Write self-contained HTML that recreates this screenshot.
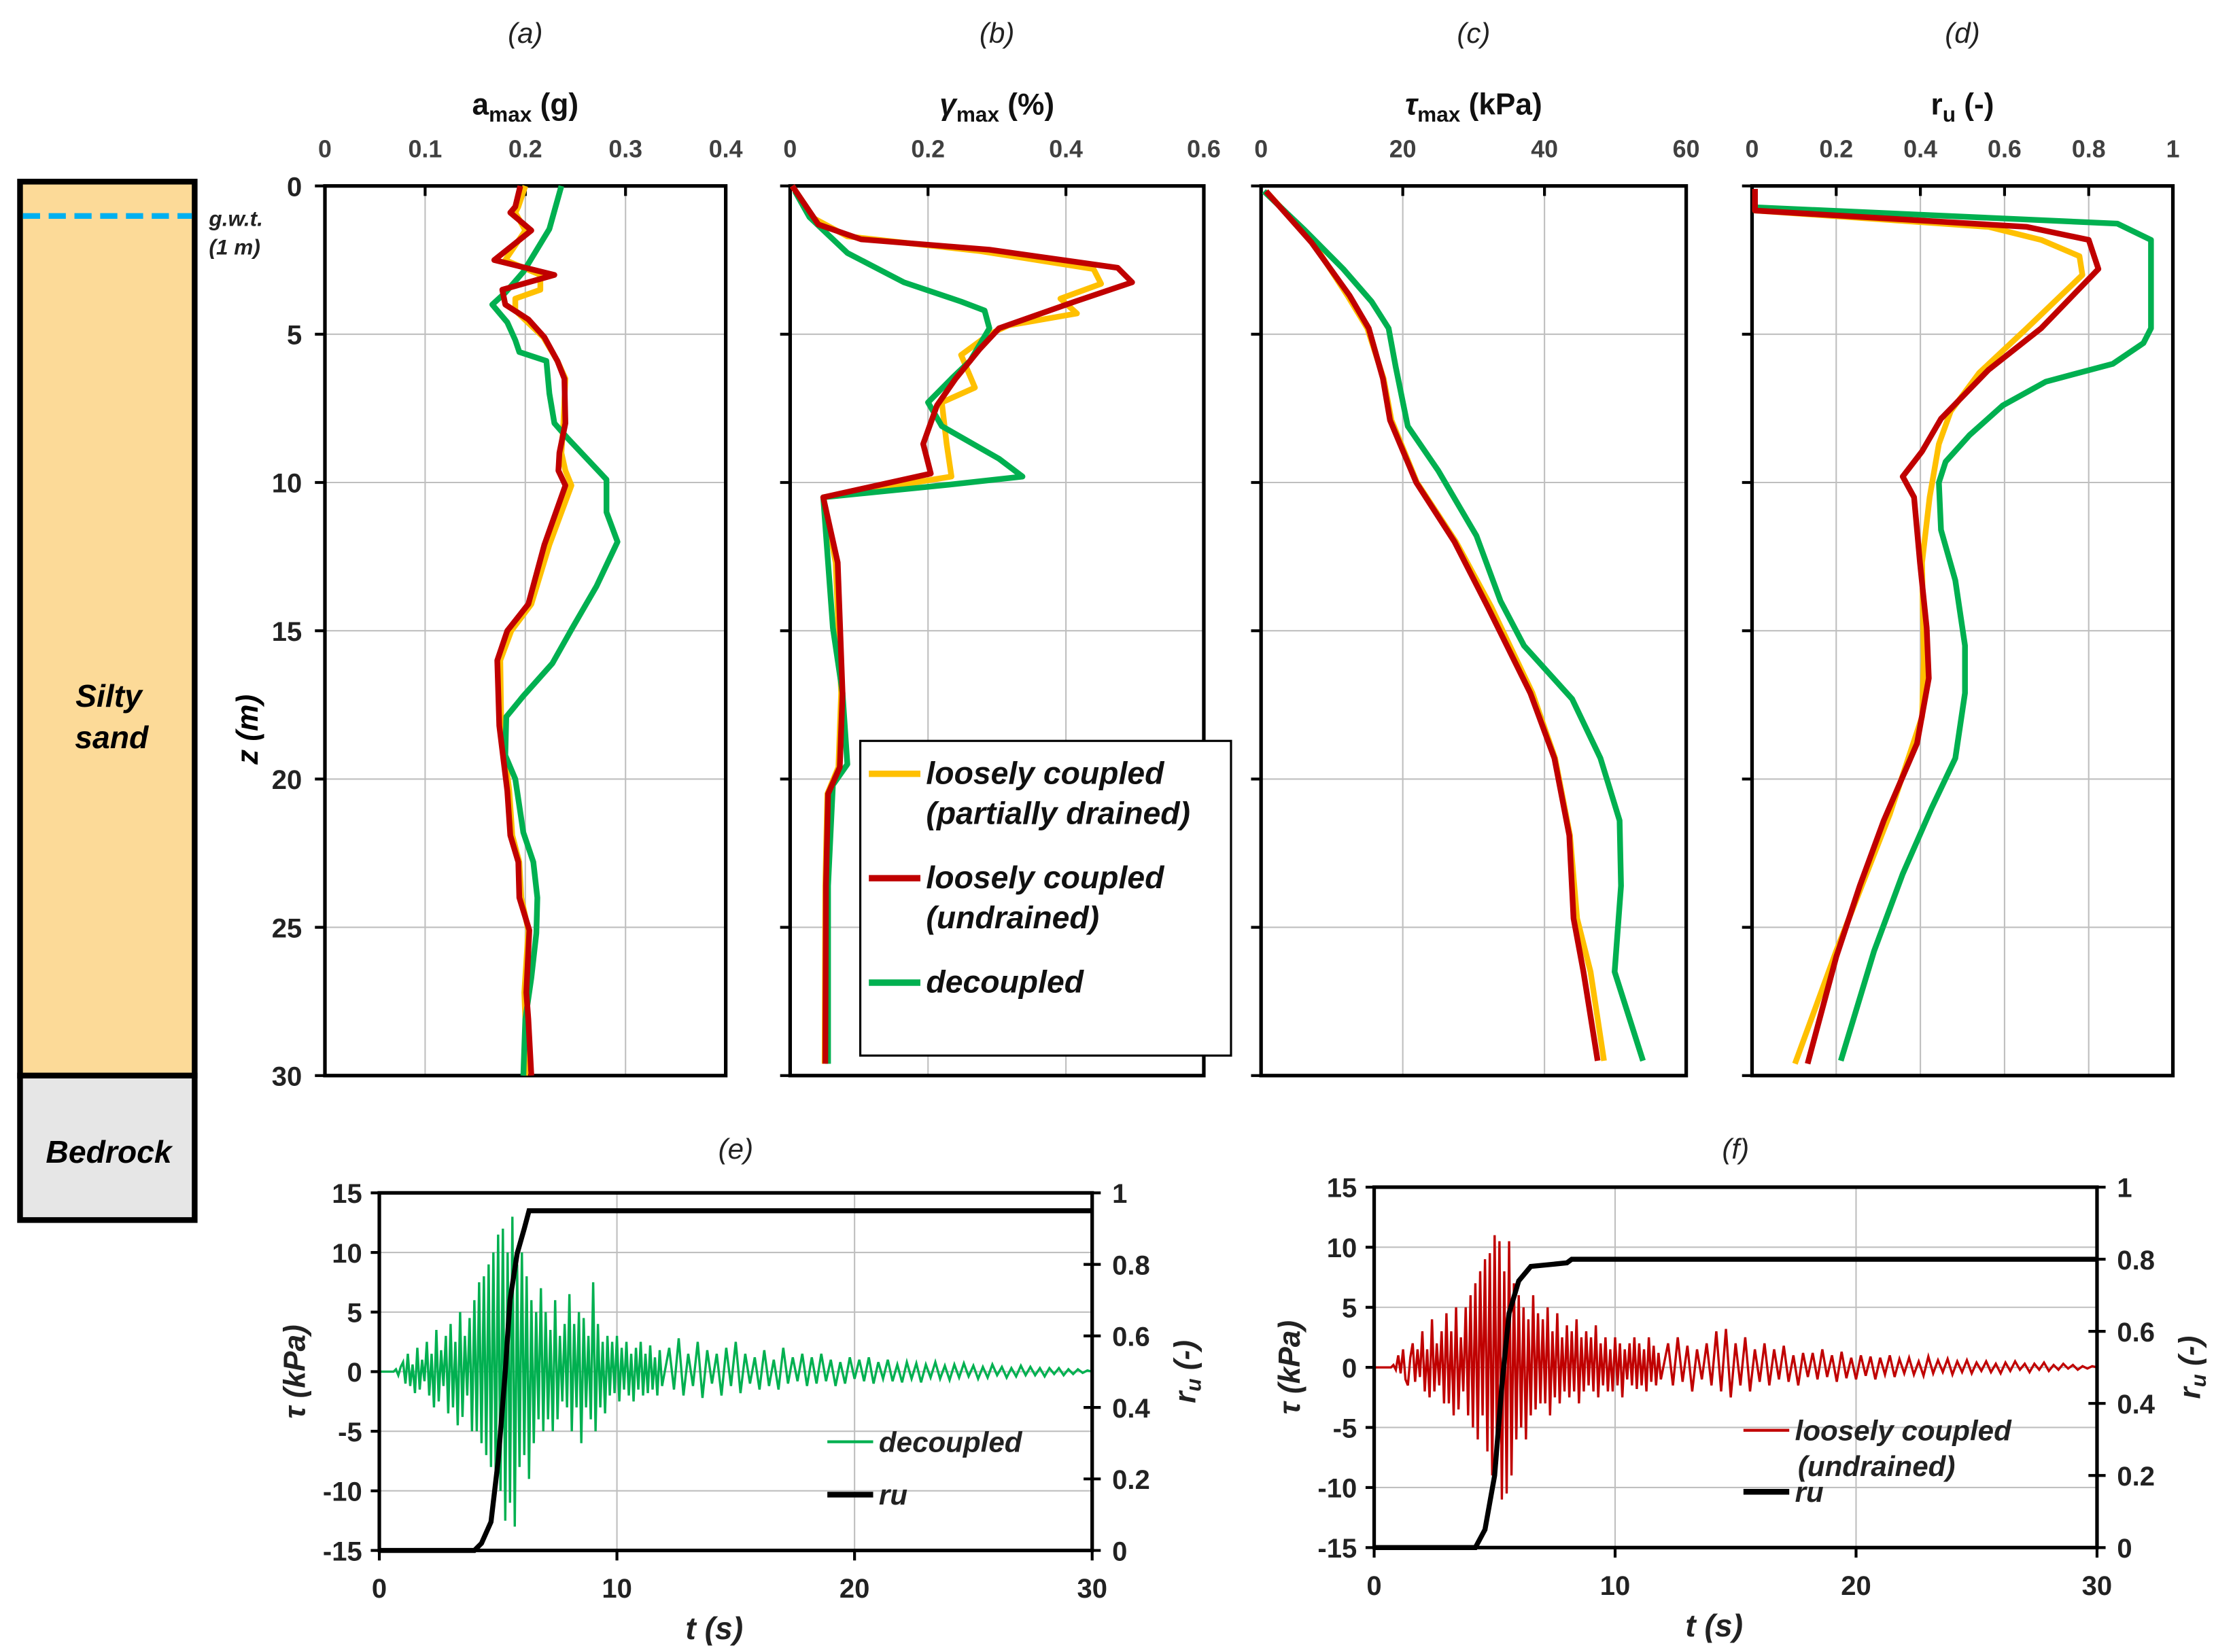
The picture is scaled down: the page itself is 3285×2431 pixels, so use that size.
<!DOCTYPE html>
<html><head><meta charset="utf-8"><style>
html,body{margin:0;padding:0;background:#fff}
svg{display:block}
text{font-family:"Liberation Sans",Arial,sans-serif}
</style></head><body>
<svg id="fig" width="3285" height="2431" viewBox="0 0 1560 1155" preserveAspectRatio="none" xmlns="http://www.w3.org/2000/svg">
<g>
<rect x="14" y="127" width="122" height="625" fill="#FCDA98" stroke="#000" stroke-width="4"/>
<rect x="14" y="752" width="122" height="101" fill="#E6E6E6" stroke="#000" stroke-width="4"/>
<line x1="16" y1="151" x2="134" y2="151" stroke="#00B0F0" stroke-width="4" stroke-dasharray="12,6"/>
<text x="76" y="494" text-anchor="middle" font-size="22" font-weight="bold" font-style="italic">Silty</text>
<text x="78" y="523" text-anchor="middle" font-size="22" font-weight="bold" font-style="italic">sand</text>
<text x="76" y="813" text-anchor="middle" font-size="22" font-weight="bold" font-style="italic">Bedrock</text>
<text x="146" y="158" font-size="15" font-style="italic" font-weight="bold" fill="#222">g.w.t.</text>
<text x="146" y="178" font-size="15" font-style="italic" font-weight="bold" fill="#222">(1 m)</text>
</g>
<g id="charts"></g>
</svg>
<script>
// ---------- profile data (depth z in m, value) ----------
const zTicks=[0,5,10,15,20,25,30];
const aTicks=[0,0.1,0.2,0.3,0.4];
const gTicks=[0,0.2,0.4,0.6];
const tTicks=[0,20,40,60];
const rTicks=[0,0.2,0.4,0.6,0.8,1];

const aGreenZ=[0,1.45,2.9,3.6,4,4.6,5.2,5.6,5.9,7,8,8.5,9.9,11,12,13.5,14.9,16.1,17.2,17.9,19.2,20,21.8,22.8,24,25.2,26.7,28.1,30];
const aGreenV=[0.236,0.224,0.198,0.18,0.167,0.182,0.19,0.194,0.221,0.224,0.229,0.242,0.281,0.281,0.292,0.271,0.247,0.227,0.198,0.181,0.18,0.19,0.198,0.208,0.212,0.211,0.206,0.2,0.198];
const aRedZ=[0,0.7,0.9,1.5,2.5,3,3.5,4,4.5,5.1,5.9,6.5,8,9,9.6,10.1,12.1,14.1,15,16,18.2,20.4,21.9,22.8,24,25.1,27.2,28.1,30];
const aRedV=[0.195,0.19,0.185,0.206,0.169,0.229,0.177,0.18,0.203,0.219,0.232,0.239,0.24,0.234,0.233,0.24,0.219,0.203,0.182,0.172,0.174,0.182,0.185,0.193,0.194,0.204,0.201,0.203,0.206];
const aOrZ=[0,0.7,0.9,1.5,2.5,3,3.5,3.8,4.2,5.1,5.9,6.5,8,9,9.6,10.1,12.1,14.1,15,16,18.2,20.4,21.9,22.8,24,25.1,27.2,28.1,30];
const aOrV=[0.2,0.193,0.19,0.2,0.18,0.215,0.215,0.19,0.19,0.218,0.232,0.24,0.238,0.236,0.24,0.246,0.224,0.206,0.186,0.175,0.176,0.184,0.187,0.194,0.196,0.203,0.199,0.2,0.2];

const bGreenZ=[0.18,1.05,2.26,3.25,3.9,4.2,4.8,5.9,6.5,7.3,8.1,9.2,9.8,10.1,10.5,12.7,14.9,17.1,19.5,20.2,23.6,29.6];
const bGreenV=[0.007,0.028,0.083,0.165,0.248,0.282,0.289,0.261,0.234,0.2,0.22,0.303,0.337,0.22,0.048,0.055,0.062,0.076,0.083,0.062,0.055,0.055];
const bRedZ=[0,1.3,1.8,2.15,2.76,3.25,3.9,4.8,5.5,6.5,7.4,8.7,9.7,10.5,12.7,17.1,19.6,20.5,23.6,29.6];
const bRedV=[0.003,0.041,0.103,0.289,0.475,0.496,0.413,0.303,0.275,0.24,0.213,0.193,0.204,0.048,0.069,0.076,0.072,0.055,0.052,0.051];
const bOrZ=[0,1.1,1.7,2.2,2.8,3.3,3.8,4.3,4.7,5.0,5.7,6.8,7.3,8.7,9.8,10.5,12.7,17.1,19.6,20.5,23.6,29.6];
const bOrV=[0.003,0.035,0.083,0.276,0.44,0.451,0.392,0.416,0.317,0.289,0.248,0.268,0.22,0.227,0.234,0.048,0.066,0.074,0.07,0.054,0.051,0.05];

const cGreenZ=[0.18,1.5,2.8,3.9,4.8,6.1,8.1,9.6,11.8,14,15.5,17.3,19.3,21.4,23.6,26.5,29.5];
const cGreenV=[0.4,6.2,11.6,15.6,18,19,20.7,25,30.4,33.8,37.1,43.9,47.9,50.6,50.8,49.9,53.9];
const cRedZ=[0.18,1.9,3.7,4.8,6.5,7.9,10,12,14.2,17.1,19.3,21.9,24.7,26.5,29.5];
const cRedV=[0.7,7.1,12.5,15.2,17.2,18.2,21.9,27.3,32,38,41.4,43.5,44.1,45.5,47.5];
const cOrZ=[0.18,1.9,3.7,4.8,6.5,7.9,10,12,14.2,17.1,19.3,21.9,24.7,26.5,29.5];
const cOrV=[0.7,7.3,12.2,15.0,17.3,18.4,22.0,27.5,32.5,38.3,41.5,43.6,44.6,46.5,48.4];

const dGreenZ=[0.1,0.72,1.27,1.82,4.8,5.3,6,6.6,7.4,8.4,9.3,10,11.6,13.3,15.5,17.1,19.3,21,23.2,25.8,29.5];
const dGreenV=[0.007,0.007,0.868,0.948,0.948,0.93,0.857,0.698,0.596,0.517,0.46,0.444,0.449,0.483,0.506,0.506,0.483,0.426,0.358,0.29,0.211];
const dRedZ=[0.1,0.83,1.38,1.82,2.8,4.8,6.2,7.85,8.95,9.8,10.5,12.7,14.9,16.6,18.8,21.4,23.6,26,29.6];
const dRedV=[0.007,0.007,0.653,0.8,0.823,0.687,0.562,0.449,0.404,0.358,0.385,0.399,0.415,0.42,0.392,0.313,0.256,0.2,0.132];
const dOrZ=[0.1,0.83,1.38,1.82,2.37,3,4.8,6.3,7.6,8.7,10.5,12.7,16,17.9,21.2,25.8,29.6];
const dOrV=[0.007,0.007,0.562,0.687,0.778,0.785,0.653,0.54,0.472,0.444,0.422,0.404,0.408,0.404,0.327,0.2,0.102];

// ---------- time histories ----------
const tauTicks=[-15,-10,-5,0,5,10,15];
const ruTicks=[0,0.2,0.4,0.6,0.8,1];
const timeTicks=[0,10,20,30];
const tauDecoupledEarly=[0,0,0,0,0,0,0,0.2,-0.3,0.4, 0.8,-1,1.5,-1.2,0.6,-1.8,2,-1.5,1,-0.8, 2.5,-2,1.5,-3,3.5,-2.5,1.8,-1.2,3,-3.5, 4,-3,2.5,-4.5,5,-3.8,3,-2,4.5,-5, 6,-5,7.5,-6,8,-7,9,-8,10,-9, 11.5,-10,12,-12.5,10,-11,13,-13,9,-8, 10,-7,8,-9,6,-6,5,-4,7,-5, 5,-4,3.5,-5,6,-4,3,-2.5,4,-3, 6.5,-5,4,-3,5,-6,4.5,-3,3,-4, 7.5,-5,4,-3,2.5,-3.5,3,-2,2.5,-1.8, 3,-2.5,2,-1.5,2.5,-2,1.5,-2.5,2,-1.5, 2.5,-2,1.5,-1.8,2.2,-1.5,1.2,-2,1.8,-1.2];
const tauDecoupledLate=[2,-1.5,2.8,-2,1.5,-1.2,2.5,-2.2,1.8,-1, 1.5,-2,2,-1.2,2.5,-1.8,1.5,-1,1.2,-1.5, 1.8,-1.2,1,-1.5,2,-1,1.2,-0.8,1.5,-1.2, 1.2,-1,1.5,-0.8,1,-1.2,0.8,-1,1.2,-0.6, 1,-0.8,1.2,-1,0.8,-0.6,1,-0.8,0.6,-0.9, 0.8,-0.6,0.7,-0.9,0.6,-0.5,0.8,-0.6,0.5,-0.7, 0.6,-0.5,0.7,-0.4,0.5,-0.6,0.4,-0.5,0.6,-0.3, 0.4,-0.5,0.3,-0.4,0.5,-0.3,0.4,-0.3,0.3,-0.4, 0.3,-0.2,0.3,-0.3,0.2,-0.2,0.2,-0.1,0.1,0];
const tauUndrainedEarly=[0,0,0,0,0,0,0,0,0.2,-0.2, 1,-0.5,1.5,-1,-1.5,0.8,2,-1.2,1.5,-0.8, 3,-2,1.5,-2.5,4,-2,2,-1.5,3,-3, 4.5,-3,3,-4,5,-3.5,2.5,-2,5,-4, 6,-5,7,-6,8,-4,9,-7,9.5,-9, 11,-8,10.5,-11,8,-10.5,10.5,-9,7,-6, 6,-5,5,-6,4,-4,6,-3.5,4.5,-3, 4,-3,5,-4,3,-2.5,4.5,-3,2.5,-2, 3.5,-2.5,3,-2,4,-3,2.5,-2,3,-1.5, 2.5,-2,3.5,-2.5,2,-1.5,2.5,-2,1.5,-2, 2.5,-1.5,2,-2.5,1.5,-1,2,-1.5,2.5,-1.8, 2,-1.5,1.5,-2,2.5,-1.2,1.8,-1.5,1.2,-1];
const tauUndrainedLate=[2,-1.5,2.5,-1.2,1.8,-2,1.5,-1,2,-1.5, 3,-2,3.2,-2.5,2,-1.5,2.5,-2,1.5,-1.2, 2,-1.5,1.5,-1,1.8,-1.2,1,-1.5,1.2,-0.8, 1.2,-1,1.5,-0.8,1,-1.2,1.3,-0.9,0.8,-1, 1,-0.7,0.9,-1,0.8,-0.6,1,-0.8,0.7,-0.5, 0.8,-0.6,0.5,-0.7,0.9,-0.5,0.6,-0.4,0.7,-0.6, 0.5,-0.4,0.6,-0.5,0.4,-0.3,0.5,-0.4,0.3,-0.5, 0.4,-0.3,0.5,-0.2,0.3,-0.4,0.3,-0.2,0.4,-0.3, 0.2,-0.2,0.3,-0.1,0.2,-0.2,0.1,-0.1,0.1,0];
const ruDecT=[0,4,4.3,4.7,5,5.3,5.5,5.8,6.1,6.3,30];
const ruDecV=[0,0,0.02,0.08,0.25,0.5,0.7,0.83,0.9,0.95,0.95];
const ruUndT=[0,4.2,4.6,5,5.3,5.6,6,6.5,8,8.2,30];
const ruUndV=[0,0,0.05,0.2,0.45,0.65,0.74,0.78,0.79,0.8,0.8];

const NS="http://www.w3.org/2000/svg";
const root=document.getElementById('charts');
function mk(tag,attrs,parent){const e=document.createElementNS(NS,tag);for(const k in attrs)e.setAttribute(k,attrs[k]);(parent||root).appendChild(e);return e;}
function txt(s,attrs,parent){const e=mk('text',attrs,parent);e.textContent=s;return e;}
const OR="#FFC000",RD="#C00000",GR="#00B050";

function profile(name,x0,x1,y0,y1,xmax,xt,fmt,letter,title,sub,rest,showZ,series){
  const g=mk('g',{});
  
  
  const X=v=>x0+(v/xmax)*(x1-x0), Y=z=>y0+(z/30)*(y1-y0);
  xt.forEach(v=>{ if(v>0&&v<xmax){const l=mk('line',{x1:X(v),x2:X(v),y1:y0,y2:y1,stroke:'#BFBFBF','stroke-width':1},g);}
    const t=txt(fmt(v),{x:X(v),y:y0-20,'text-anchor':'middle','font-size':17,'font-weight':'bold',fill:'#404040'},g);
    
    const tk=mk('line',{x1:X(v),x2:X(v),y1:y0,y2:y0+7,stroke:'#000','stroke-width':2},g);});
  zTicks.forEach(z=>{ if(z>0&&z<30){const l=mk('line',{x1:x0,x2:x1,y1:Y(z),y2:Y(z),stroke:'#BFBFBF','stroke-width':1},g);}
    const tk=mk('line',{x1:x0-7,x2:x0,y1:Y(z),y2:Y(z),stroke:'#000','stroke-width':2},g);
    if(showZ){const t=txt(String(z),{x:x0-16,y:Y(z)+7,'text-anchor':'end','font-size':19,'font-weight':'bold',fill:'#222'},g);}});
  const b=mk('rect',{x:x0,y:y0,width:x1-x0,height:y1-y0,fill:'none',stroke:'#000','stroke-width':2.5},g);
  
  series.forEach(s=>{const p=mk('polyline',{points:s.z.map((z,i)=>X(s.v[i])+','+Y(z)).join(' '),fill:'none',stroke:s.c,'stroke-width':4,'stroke-linejoin':'round'},g);
    });
  const cx=(x0+x1)/2;
  const lt=txt(letter,{x:cx,y:30,'text-anchor':'middle','font-size':20,'font-style':'italic',fill:'#222'},g);
  
  const tt=mk('text',{x:cx,y:80,'text-anchor':'middle','font-size':21,'font-weight':'bold',fill:'#111'},g);
  
  tt.innerHTML=title+'<tspan font-size="15" dy="5">'+sub+'</tspan><tspan dy="-5"> '+rest+'</tspan>';
}
const f1=v=>String(v);
profile('panel-a-amax',227,507,130,752,0.4,aTicks,f1,'(a)','a','max','(g)',true,
 [{z:aOrZ,v:aOrV,c:OR,n:'amax-partially-drained'},{z:aGreenZ,v:aGreenV,c:GR,n:'amax-decoupled'},{z:aRedZ,v:aRedV,c:RD,n:'amax-undrained'}]);
profile('panel-b-gamma',552,841,130,752,0.6,gTicks,f1,'(b)','<tspan font-style="italic">γ</tspan>','max','(%)',false,
 [{z:bOrZ,v:bOrV,c:OR,n:'gamma-partially-drained'},{z:bGreenZ,v:bGreenV,c:GR,n:'gamma-decoupled'},{z:bRedZ,v:bRedV,c:RD,n:'gamma-undrained'}]);
profile('panel-c-tau',881,1178,130,752,60,tTicks,f1,'(c)','<tspan font-style="italic">τ</tspan>','max','(kPa)',false,
 [{z:cOrZ,v:cOrV,c:OR,n:'tau-partially-drained'},{z:cGreenZ,v:cGreenV,c:GR,n:'tau-decoupled'},{z:cRedZ,v:cRedV,c:RD,n:'tau-undrained'}]);
profile('panel-d-ru',1224,1518,130,752,1,rTicks,f1,'(d)','r','u','(-)',false,
 [{z:dOrZ,v:dOrV,c:OR,n:'ru-partially-drained'},{z:dGreenZ,v:dGreenV,c:GR,n:'ru-decoupled'},{z:dRedZ,v:dRedV,c:RD,n:'ru-undrained'}]);
const zt=txt('z (m)',{x:0,y:0,'text-anchor':'middle','font-size':21,'font-weight':'bold','font-style':'italic',transform:'translate(180,510) rotate(-90)'});


const lg=mk('g',{});


const lr=mk('rect',{x:601,y:518,width:259,height:220,fill:'#fff',stroke:'#000','stroke-width':1.5},lg);

[[OR,548,'loosely coupled','(partially drained)'],[RD,621,'loosely coupled','(undrained)'],[GR,694,'decoupled','']].forEach(e=>{
  const l=mk('line',{x1:607,x2:643,y1:e[1]-7,y2:e[1]-7,stroke:e[0],'stroke-width':4.5},lg);
  
  const t=txt(e[2],{x:647,y:e[1],'font-size':22,'font-weight':'bold','font-style':'italic',fill:'#111'},lg);
  
  if(e[3]){const t2=txt(e[3],{x:647,y:e[1]+28,'font-size':22,'font-weight':'bold','font-style':'italic',fill:'#111'},lg);
  }
});

function timePlot(name,x0,x1,y0,y1,letter,early,late,ruT,ruV,col,leg1,leg1b,legY){
  const g=mk('g',{});
  
  
  const X=t=>x0+(t/30)*(x1-x0), Y=v=>y1-((v+15)/30)*(y1-y0), R=r=>y1-r*(y1-y0);
  tauTicks.forEach(v=>{ if(v>-15&&v<15){const l=mk('line',{x1:x0,x2:x1,y1:Y(v),y2:Y(v),stroke:'#BFBFBF','stroke-width':1},g);}
    const tk=mk('line',{x1:x0-6,x2:x0,y1:Y(v),y2:Y(v),stroke:'#000','stroke-width':2},g);
    const t=txt(String(v),{x:x0-12,y:Y(v)+7,'text-anchor':'end','font-size':19,'font-weight':'bold',fill:'#222'},g);});
  timeTicks.forEach(v=>{ if(v>0&&v<30){const l=mk('line',{x1:X(v),x2:X(v),y1:y0,y2:y1,stroke:'#BFBFBF','stroke-width':1},g);}
    const tk=mk('line',{x1:X(v),x2:X(v),y1:y1,y2:y1+7,stroke:'#000','stroke-width':2},g);
    const t=txt(String(v),{x:X(v),y:y1+33,'text-anchor':'middle','font-size':19,'font-weight':'bold',fill:'#222'},g);});
  ruTicks.forEach(v=>{const tk=mk('line',{x1:x1-6,x2:x1+6,y1:R(v),y2:R(v),stroke:'#000','stroke-width':2},g);
    const t=txt(String(v),{x:x1+14,y:R(v)+7,'font-size':19,'font-weight':'bold',fill:'#222'},g);});
  const pts=[];
  early.forEach((v,i)=>pts.push(X(i*0.1)+','+Y(v)));
  late.forEach((v,i)=>pts.push(X(12+i*0.2+0.2)+','+Y(v)));
  const tp=mk('polyline',{points:pts.join(' '),fill:'none',stroke:col,'stroke-width':1.6},g);
  
  const rp=mk('polyline',{points:ruT.map((t,i)=>X(t)+','+R(ruV[i])).join(' '),fill:'none',stroke:'#000','stroke-width':3.5},g);
  
  const b=mk('rect',{x:x0,y:y0,width:x1-x0,height:y1-y0,fill:'none',stroke:'#000','stroke-width':2.5},g);
  
  const cx=(x0+x1)/2;
  const lt=txt(letter,{x:cx,y:810,'text-anchor':'middle','font-size':20,'font-style':'italic',fill:'#222'},g);
  const xt=txt('t (s)',{x:cx-15,y:y1+62,'text-anchor':'middle','font-size':22,'font-weight':'bold','font-style':'italic',fill:'#222'},g);
  const yt=txt('τ (kPa)',{x:0,y:0,'text-anchor':'middle','font-size':21,'font-weight':'bold','font-style':'italic',fill:'#222',transform:'translate('+(x0-52)+','+((y0+y1)/2)+') rotate(-90)'},g);
  const rt=mk('text',{x:0,y:0,'text-anchor':'middle','font-size':21,'font-weight':'bold','font-style':'italic',fill:'#222',transform:'translate('+(x1+72)+','+((y0+y1)/2)+') rotate(-90)'},g);
  
  rt.innerHTML='r<tspan font-size="15" dy="4">u</tspan><tspan dy="-4"> (-)</tspan>';
  const lx=leg1b?x0+258:x0+313;
  const l1=mk('line',{x1:lx,x2:lx+32,y1:legY,y2:legY,stroke:col,'stroke-width':2},g);
  const t1=txt(leg1,{x:lx+36,y:legY+7,'font-size':20,'font-weight':'bold','font-style':'italic',fill:'#222'},g);
  if(leg1b){const t1b=txt(leg1b,{x:lx+38,y:legY+32,'font-size':20,'font-weight':'bold','font-style':'italic',fill:'#222'},g);}
  const ry=leg1b?legY+43:legY+37;
  const l2=mk('line',{x1:lx,x2:lx+32,y1:ry,y2:ry,stroke:'#000','stroke-width':4},g);
  const t2=txt('ru',{x:lx+36,y:ry+7,'font-size':20,'font-weight':'bold','font-style':'italic',fill:'#222'},g);
}
timePlot('panel-e-time-history',265,763,834,1084,'(e)',tauDecoupledEarly,tauDecoupledLate,ruDecT,ruDecV,GR,'decoupled','',1008);
timePlot('panel-f-time-history',960,1465,830,1082,'(f)',tauUndrainedEarly,tauUndrainedLate,ruUndT,ruUndV,RD,'loosely coupled','(undrained)',1000);
</script>
</body></html>
